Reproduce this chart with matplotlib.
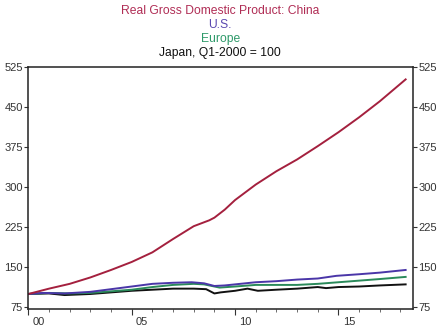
import matplotlib
matplotlib.use("Agg")
import matplotlib.pyplot as plt
import matplotlib.transforms as mtransforms
import numpy as np

plt.rcParams['font.family'] = ['Liberation Sans', 'DejaVu Sans']

# real GDP index, Q1-2000 = 100
china_t = [2000.0, 2001.0, 2002.0, 2003.0, 2004.0, 2005.0, 2006.0, 2007.0, 2008.0,
           2008.75, 2009.0, 2009.5, 2010.0, 2011.0, 2012.0, 2013.0, 2014.0, 2015.0,
           2016.0, 2017.0, 2018.25]
china = [100, 110, 119, 131, 145, 160, 178, 203, 227,
         238, 243, 258, 276, 305, 330, 352, 377, 403,
         431, 461, 502]

us_t = [2000.0, 2000.75, 2001.75, 2003.0, 2004.0, 2005.0, 2006.0, 2007.0, 2007.9,
        2008.5, 2009.0, 2009.5, 2010.0, 2011.0, 2012.0, 2013.0, 2014.0, 2014.9,
        2016.0, 2017.0, 2018.25]
us = [100, 102, 101, 104, 109, 114, 119, 121, 122,
      120, 115, 116, 118, 122, 124, 127, 129, 134,
      137, 140, 145]

eu_t = [2000.0, 2001.0, 2002.0, 2003.0, 2004.0, 2005.0, 2006.0, 2007.0, 2008.0,
        2008.5, 2009.25, 2010.0, 2011.0, 2012.0, 2013.0, 2014.0, 2015.0, 2016.0,
        2017.0, 2018.25]
europe = [100, 102, 101, 102, 105, 108, 113, 117, 119,
          118, 112, 114, 117, 117, 117, 119, 122, 125,
          128, 132]

jp_t = [2000.0, 2001.0, 2001.75, 2003.0, 2004.0, 2005.0, 2006.0, 2007.0, 2008.0,
        2008.6, 2009.0, 2009.3, 2010.0, 2010.6, 2011.1, 2012.0, 2013.0, 2014.0,
        2014.4, 2015.0, 2016.0, 2017.0, 2018.25]
japan = [100, 101, 98, 100, 103, 106, 108, 110, 110,
         109, 101, 103, 106, 110, 106, 108, 110, 113,
         111, 113, 114, 116, 118]

fig = plt.figure(figsize=(4.43, 3.29), dpi=100)
ax = fig.add_axes([0.064, 0.061, 0.868, 0.735])

ax.plot(jp_t, japan, color="#111111", lw=1.4)
ax.plot(eu_t, europe, color="#2a8a5a", lw=1.4)
ax.plot(us_t, us, color="#4a36a8", lw=1.4)
ax.plot(china_t, china, color="#a4203e", lw=1.4)

ax.set_xlim(2000.0, 2018.6)
ax.set_ylim(72, 525)
ax.set_yticks([75, 150, 225, 300, 375, 450, 525])
ax.set_xticks([2000, 2005, 2010, 2015])
ax.set_xticklabels(["00", "05", "10", "15"])
ax.set_xticks(np.arange(2000, 2019), minor=True)

ax.tick_params(axis="y", which="both", direction="out", length=3, width=0.8,
               labelsize=8, colors="#333333", left=True, right=True,
               labelleft=True, labelright=True, pad=1)
ax.tick_params(axis="x", which="major", direction="out", length=4, width=0.8,
               labelsize=8, colors="#333333", pad=2)
ax.tick_params(axis="x", which="minor", direction="out", length=2, width=0.6,
               colors="#555555")

# shift the year labels to the right of their ticks
offset = mtransforms.ScaledTranslation(3 / 72, 0, fig.dpi_scale_trans)
for lab in ax.get_xticklabels():
    lab.set_horizontalalignment("left")
    lab.set_transform(lab.get_transform() + offset)

for s in ax.spines.values():
    s.set_linewidth(1.1)
    s.set_color("#222222")

title_lines = [("Real Gross Domestic Product: China", "#b02d55", 0.968),
               ("U.S.", "#5a48b0", 0.925),
               ("Europe", "#2f9a6a", 0.882),
               ("Japan, Q1-2000 = 100", "#111111", 0.839)]
for txt, col, y in title_lines:
    fig.text(0.497, y, txt, color=col, fontsize=8.7, ha="center", va="center")

fig.savefig("out.png", dpi=100)
